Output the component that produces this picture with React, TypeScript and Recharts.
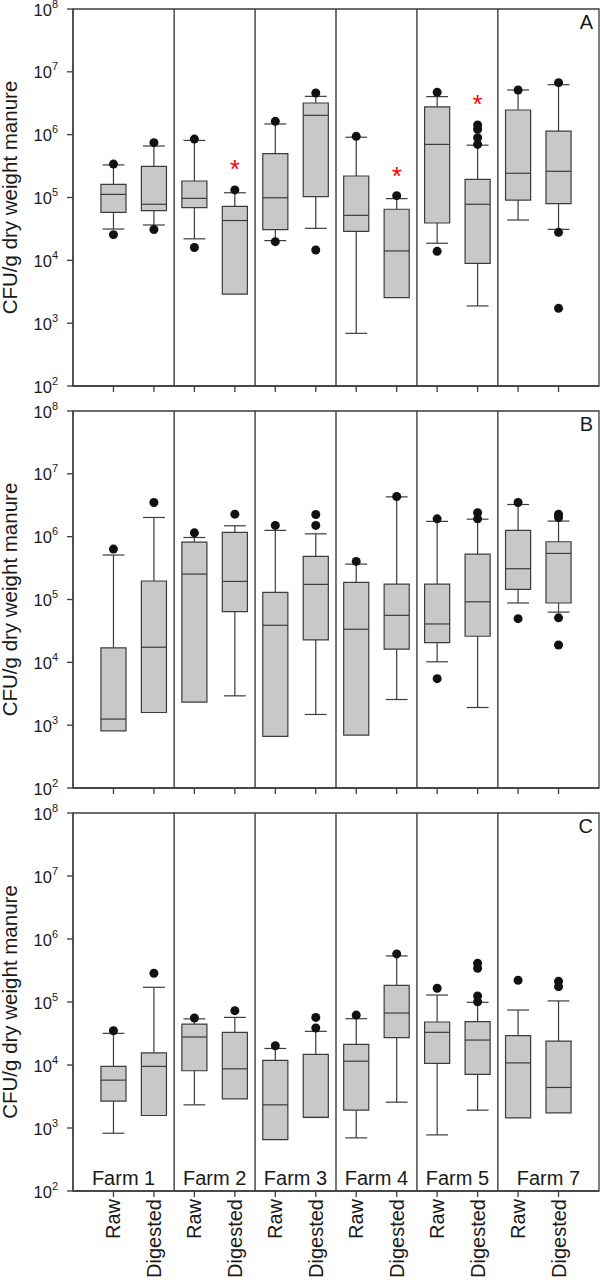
import React from 'react';
import { ComposedChart, XAxis, YAxis, ReferenceArea, ReferenceLine, Scatter } from 'recharts';

// ---------- shared categories ----------
const CATEGORIES = ['Raw', 'Digested', 'Raw', 'Digested', 'Raw', 'Digested', 'Raw', 'Digested', 'Raw', 'Digested', 'Raw', 'Digested'];
const FARMS = ['Farm 1', 'Farm 2', 'Farm 3', 'Farm 4', 'Farm 5', 'Farm 7'];
const FARM_BOUNDS = [0, 2.5, 4.5, 6.5, 8.5, 10.5, 13];
const Y_TICKS = [1e2, 1e3, 1e4, 1e5, 1e6, 1e7, 1e8];

// ---------- Panel A ----------
const A_WLO = [3.15e4, 3.65e4, 2.2e4, null, 2.06e4, 3.23e4, 689, null, 1.87e4, 1.88e3, 4.38e4, 3.11e4];
const A_Q1 = [5.8e4, 6.2e4, 6.9e4, 2.9e3, 3.08e4, 1.03e5, 2.9e4, 2.55e3, 3.93e4, 8.96e3, 9.1e4, 7.98e4];
const A_MED = [1.12e5, 7.8e4, 9.7e4, 4.3e4, 9.9e4, 2.03e6, 5.2e4, 1.41e4, 7.0e5, 7.8e4, 2.43e5, 2.61e5];
const A_Q3 = [1.62e5, 3.13e5, 1.83e5, 7.2e4, 4.99e5, 3.19e6, 2.2e5, 6.5e4, 2.76e6, 1.95e5, 2.47e6, 1.14e6];
const A_WHI = [3.3e5, 6.6e5, 8.1e5, 1.19e5, 1.48e6, 4.07e6, 9.1e5, 9.6e4, 4.03e6, 6.8e5, 5.14e6, 6.25e6];
const A_OUT = [[3.4e5, 2.56e4], [7.46e5, 3.1e4], [8.5e5, 1.6e4], [1.32e5], [1.63e6, 1.98e4], [4.6e6, 1.46e4], [9.4e5], [1.07e5], [4.72e6, 1.39e4], [1.43e6, 1.22e6, 8.96e5, 7.0e5], [5.14e6], [6.72e6, 2.79e4, 1.72e3]];
const A_STAR = [null, null, null, 3.4e5, null, null, null, 2.67e5, null, 3.7e6, null, null];

// ---------- Panel B ----------
const B_WLO = [null, null, null, 2.93e3, null, 1.48e3, null, 2.56e3, 1.02e4, 1.91e3, 8.8e4, 6.3e4];
const B_Q1 = [814, 1.59e3, 2.32e3, 6.4e4, 662, 2.27e4, 695, 1.62e4, 2.06e4, 2.6e4, 1.45e5, 8.8e4];
const B_MED = [1.25e3, 1.74e4, 2.54e5, 1.94e5, 3.89e4, 1.74e5, 3.36e4, 5.6e4, 4.08e4, 9.2e4, 3.09e5, 5.41e5];
const B_Q3 = [1.7e4, 1.97e5, 8.2e5, 1.17e6, 1.3e5, 4.85e5, 1.87e5, 1.76e5, 1.76e5, 5.28e5, 1.26e6, 8.3e5];
const B_WHI = [5.1e5, 2.02e6, 9.7e5, 1.49e6, 1.26e6, 1.11e6, 3.66e5, 4.3e6, 1.75e6, 1.9e6, 3.25e6, 1.77e6];
const B_OUT = [[6.34e5], [3.5e6], [1.15e6], [2.28e6], [1.51e6], [2.25e6, 1.51e6], [4.04e5], [4.35e6], [1.92e6, 5.5e3], [2.4e6, 1.92e6], [3.5e6, 4.96e4], [2.28e6, 2.02e6, 5.1e4, 1.89e4]];
const B_STAR = [null, null, null, null, null, null, null, null, null, null, null, null];

// ---------- Panel C ----------
const C_WLO = [826, null, 2.33e3, null, null, null, 697, 2.57e3, 777, 1.92e3, null, null];
const C_Q1 = [2.67e3, 1.58e3, 8.1e3, 2.9e3, 655, 1.47e3, 1.92e3, 2.71e4, 1.06e4, 7.08e3, 1.45e3, 1.74e3];
const C_MED = [5.75e3, 9.5e3, 2.78e4, 8.7e3, 2.33e3, 1.47e3, 1.15e4, 6.68e4, 3.3e4, 2.49e4, 1.08e4, 4.4e3];
const C_Q3 = [9.5e3, 1.56e4, 4.47e4, 3.3e4, 1.18e4, 1.47e4, 2.12e4, 1.84e5, 4.81e4, 4.87e4, 2.92e4, 2.4e4];
const C_WHI = [3.18e4, 1.71e5, 5.4e4, 5.7e4, 1.83e4, 3.42e4, 5.43e4, 5.39e5, 1.29e5, 9.9e4, 7.46e4, 1.04e5];
const C_OUT = [[3.5e4], [2.86e5], [5.57e4], [7.28e4], [2.02e4], [5.7e4, 3.86e4], [6.2e4], [5.8e5], [1.65e5], [4.12e5, 3.43e5, 1.25e5, 1.01e5], [2.21e5], [2.13e5, 1.75e5]];
const C_STAR = [null, null, null, null, null, null, null, null, null, null, null, null];

const BOX_HALF = 0.31;
const CAP_HALF = 0.27;
const LINE = '#3c3c3c';
const FILL = '#c8c8c8';
const TEXT = '#1a1a1a';

const YTick = (props: any) => {
  const { x, y, payload } = props;
  const exp = Math.round(Math.log10(payload.value));
  return (
    <text x={x - 7} y={y} textAnchor="end" fill={TEXT} fontSize={16.5}>
      <tspan dy={6.5}>10</tspan>
      <tspan fontSize={11} dy={-8}>{exp}</tspan>
    </text>
  );
};

const XTickLabel = (props: any) => {
  const { x, y, payload } = props;
  return (
    <text x={x} y={y} transform={`rotate(-90 ${x} ${y})`} textAnchor="end" dy="0.35em" fill={TEXT} fontSize={20}>
      {CATEGORIES[payload.value - 1]}
    </text>
  );
};

const NoTick = () => <g />;

const Dot = (p: any) => <circle cx={p.cx} cy={p.cy} r={4.5} fill="#111" />;
const Star = (p: any) => (
  <text x={p.cx} y={p.cy + 14} textAnchor="middle" fill="#ff0000" fontSize={26}>*</text>
);

function Panel(props: any) {
  const { wlo, q1, med, q3, whi, out, star, letter, showLabels, height, top, xAxisHeight } = props;
  const outData = out.flatMap((vals: number[], i: number) => vals.map((v) => ({ x: i + 1, y: v })));
  const starData = star
    .map((v: number | null, i: number) => (v == null ? null : { x: i + 1, y: v }))
    .filter(Boolean);

  const boxes = q1.map((lo: number, i: number) => {
    const c = i + 1;
    return (
      <ReferenceArea key={`box${i}`} x1={c - BOX_HALF} x2={c + BOX_HALF} y1={lo} y2={q3[i]} fill={FILL} fillOpacity={1} stroke={LINE} strokeWidth={1.2} />
    );
  });
  const medians = med.map((m: number, i: number) => {
    const c = i + 1;
    return <ReferenceLine key={`med${i}`} segment={[{ x: c - BOX_HALF, y: m }, { x: c + BOX_HALF, y: m }]} stroke={LINE} strokeWidth={1.2} />;
  });
  const whiskers: any[] = [];
  whi.forEach((w: number | null, i: number) => {
    const c = i + 1;
    if (w != null) {
      whiskers.push(<ReferenceLine key={`wh${i}`} segment={[{ x: c, y: q3[i] }, { x: c, y: w }]} stroke={LINE} strokeWidth={1.2} />);
      whiskers.push(<ReferenceLine key={`ch${i}`} segment={[{ x: c - CAP_HALF, y: w }, { x: c + CAP_HALF, y: w }]} stroke={LINE} strokeWidth={1.2} />);
    }
  });
  wlo.forEach((w: number | null, i: number) => {
    const c = i + 1;
    if (w != null) {
      whiskers.push(<ReferenceLine key={`wl${i}`} segment={[{ x: c, y: q1[i] }, { x: c, y: w }]} stroke={LINE} strokeWidth={1.2} />);
      whiskers.push(<ReferenceLine key={`cl${i}`} segment={[{ x: c - CAP_HALF, y: w }, { x: c + CAP_HALF, y: w }]} stroke={LINE} strokeWidth={1.2} />);
    }
  });
  const separators = FARM_BOUNDS.slice(1, -1).map((b) => (
    <ReferenceLine key={`sep${b}`} x={b} stroke={LINE} strokeWidth={1.4} />
  ));
  const farmLabels = showLabels
    ? FARMS.map((f, i) => (
        <ReferenceArea
          key={`farm${i}`}
          x1={FARM_BOUNDS[i]}
          x2={FARM_BOUNDS[i + 1]}
          y1={100}
          y2={1e8}
          fill="none"
          fillOpacity={0}
          stroke="none"
          label={{ value: f, position: 'insideBottom', offset: 6, fontSize: 20, fill: TEXT }}
        />
      ))
    : [];

  return (
    <div style={{ position: 'absolute', left: 0, top, width: 600, height }}>
      <ComposedChart width={600} height={height} margin={{ top: props.marginTop, right: 1, bottom: 0, left: 0 }}>
        <XAxis
          type="number"
          dataKey="x"
          domain={[0, 13]}
          ticks={[1, 2, 3, 4, 5, 6, 7, 8, 9, 10, 11, 12]}
          interval={0}
          allowDataOverflow
          height={xAxisHeight}
          stroke={LINE}
          strokeWidth={1.3}
          tickSize={6}
          tick={showLabels ? XTickLabel : NoTick}
        />
        <YAxis
          type="number"
          scale="log"
          domain={[100, 1e8]}
          ticks={Y_TICKS}
          interval={0}
          allowDataOverflow
          width={73}
          stroke={LINE}
          strokeWidth={1.3}
          tickSize={6}
          tick={YTick}
          label={{ value: 'CFU/g dry weight manure', angle: -90, position: 'insideLeft', offset: 9.5, fontSize: 20.5, fill: TEXT, style: { textAnchor: 'middle' } }}
        />
        <ReferenceArea
          x1={0}
          x2={13}
          y1={100}
          y2={1e8}
          fill="none"
          fillOpacity={0}
          stroke={LINE}
          strokeWidth={1.3}
          label={{ value: letter, position: 'insideTopRight', offset: 6, fontSize: 20, fill: TEXT }}
        />
        {separators}
        {farmLabels}
        {whiskers}
        {boxes}
        {medians}
        <Scatter data={outData} dataKey="y" shape={Dot} isAnimationActive={false} />
        {starData.length > 0 ? <Scatter data={starData} dataKey="y" shape={Star} isAnimationActive={false} /> : null}
      </ComposedChart>
    </div>
  );
}

export default function App() {
  return (
    <div
      style={{
        position: 'absolute',
        left: 0,
        top: 0,
        width: 600,
        height: 1287,
        background: '#fff',
        fontFamily: '"Liberation Sans", Arial, sans-serif',
      }}
    >
      <Panel wlo={A_WLO} q1={A_Q1} med={A_MED} q3={A_Q3} whi={A_WHI} out={A_OUT} star={A_STAR} letter="A" showLabels={false} top={0} height={400} marginTop={9} xAxisHeight={14} />
      <Panel wlo={B_WLO} q1={B_Q1} med={B_MED} q3={B_Q3} whi={B_WHI} out={B_OUT} star={B_STAR} letter="B" showLabels={false} top={400} height={400} marginTop={11} xAxisHeight={12} />
      <Panel wlo={C_WLO} q1={C_Q1} med={C_MED} q3={C_Q3} whi={C_WHI} out={C_OUT} star={C_STAR} letter="C" showLabels={true} top={800} height={487} marginTop={13} xAxisHeight={96} />
    </div>
  );
}
